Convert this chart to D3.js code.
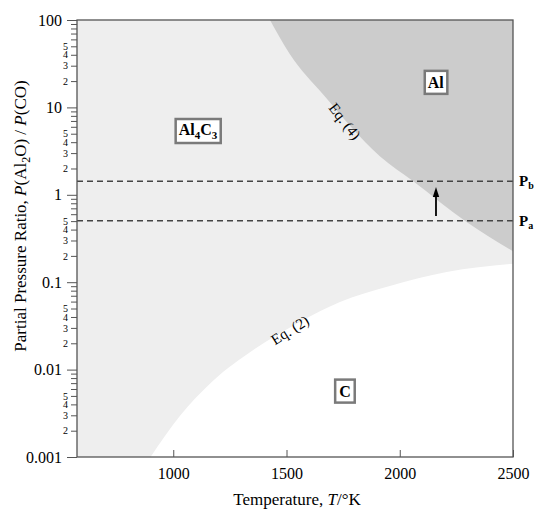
<!DOCTYPE html>
<html>
<head>
<meta charset="utf-8">
<script src="https://cdn.jsdelivr.net/npm/d3@7"></script>
<style>
  body { margin: 0; background: #fff; }
  text { font-family: "Liberation Serif", "Times New Roman", serif; }
</style>
</head>
<body>
<div id="chart"></div>
<script>
// Eq. (4) boundary (Al4C3 / Al): temperature (K) and ratio
const eq4Temps = [1427, 1515, 1661, 1912, 2058, 2295, 2500];
const eq4Ratios = [100, 40.5, 14.1, 2.77, 1.44, 0.49, 0.226];

// Eq. (2) boundary (Al4C3 / C)
const eq2Temps = [900, 1030, 1171, 1361, 1559, 1736, 1956, 2207, 2500];
const eq2Ratios = [0.001, 0.00296, 0.00724, 0.0173, 0.0351, 0.0594, 0.0906, 0.131, 0.163];

// dashed pressure levels
const levelNames = ['b', 'a'];
const levelRatios = [1.43, 0.505];

// arrow from Pa up to Pb
const arrowTemp = 2160;
const arrowRatios = [0.571, 1.225];

// axes
const xTicks = [1000, 1500, 2000, 2500];
const yTicks = [0.001, 0.01, 0.1, 1, 10, 100];
const yTickLabels = ['0.001', '0.01', '0.1', '1', '10', '100'];

// phase labels: name, temperature, ratio
const phaseNames = ['Al4C3', 'Al', 'C'];
const phaseTemps = [1109, 2159, 1758];
const phaseRatios = [5.6, 19.4, 0.00569];

// curve labels
const eqNames = ['Eq. (4)', 'Eq. (2)'];
const eqTemps = [1758, 1515];
const eqRatios = [6.95, 0.0284];
const eqAngles = [52, -32];

const width = 534, height = 510;
const margin = { top: 20, right: 21, bottom: 53, left: 77 };

const svg = d3.select('#chart')
  .append('svg')
  .attr('width', width)
  .attr('height', height);

const x = d3.scaleLinear()
  .domain([575, 2500])
  .range([margin.left, width - margin.right]);

const y = d3.scaleLog()
  .domain([0.001, 100])
  .range([height - margin.bottom, margin.top]);

// light grey background = Al4C3 field
svg.append('rect')
  .attr('x', x(575))
  .attr('y', y(100))
  .attr('width', x(2500) - x(575))
  .attr('height', y(0.001) - y(100))
  .attr('fill', '#eeeeee');

svg.append('clipPath').attr('id', 'plot')
  .append('rect')
  .attr('x', x(575))
  .attr('y', y(100))
  .attr('width', x(2500) - x(575))
  .attr('height', y(0.001) - y(100));

const eq4 = eq4Temps.map((t, i) => ({ T: t, P: eq4Ratios[i] }));
const eq2 = eq2Temps.map((t, i) => ({ T: t, P: eq2Ratios[i] }));

// Al field (dark grey), between Eq. (4) and the top
svg.append('path')
  .datum(eq4)
  .attr('clip-path', 'url(#plot)')
  .attr('fill', '#cccccc')
  .attr('d', d3.area()
    .x(d => x(d.T))
    .y0(y(100))
    .y1(d => y(d.P))
    .curve(d3.curveMonotoneX));

// C field (white), between Eq. (2) and the bottom
svg.append('path')
  .datum(eq2)
  .attr('clip-path', 'url(#plot)')
  .attr('fill', '#ffffff')
  .attr('d', d3.area()
    .x(d => x(d.T))
    .y0(y(0.001))
    .y1(d => y(d.P))
    .curve(d3.curveMonotoneX));

// dashed lines Pa, Pb
levelRatios.forEach((p, i) => {
  svg.append('line')
    .attr('x1', x(575))
    .attr('x2', x(2500))
    .attr('y1', y(p))
    .attr('y2', y(p))
    .attr('stroke', '#444')
    .attr('stroke-width', 1.5)
    .attr('stroke-dasharray', '6,4');

  const lab = svg.append('text')
    .attr('x', x(2500) + 6)
    .attr('y', y(p))
    .attr('dy', '0.35em')
    .style('font-size', '15px')
    .style('font-weight', 'bold')
    .attr('fill', '#000');
  lab.append('tspan').text('P');
  lab.append('tspan').attr('dy', 3).style('font-size', '10px').text(levelNames[i]);
});

// arrow
svg.append('line')
  .attr('x1', x(arrowTemp))
  .attr('x2', x(arrowTemp))
  .attr('y1', y(arrowRatios[0]))
  .attr('y2', y(arrowRatios[1]) + 8)
  .attr('stroke', '#000')
  .attr('stroke-width', 1.8);
svg.append('path')
  .attr('fill', '#000')
  .attr('d', `M${x(arrowTemp)},${y(arrowRatios[1])} l-3.2,10 l6.4,0 z`);

// frame
svg.append('rect')
  .attr('x', x(575))
  .attr('y', y(100))
  .attr('width', x(2500) - x(575))
  .attr('height', y(0.001) - y(100))
  .attr('fill', 'none')
  .attr('stroke', '#555')
  .attr('stroke-width', 1.3);

// y axis: major ticks
const yAxis = svg.append('g')
  .attr('transform', `translate(${margin.left},0)`)
  .call(d3.axisLeft(y)
    .tickValues(yTicks)
    .tickSize(10)
    .tickPadding(5)
    .tickFormat((d, i) => yTickLabels[i]));
yAxis.select('.domain').remove();
yAxis.selectAll('line').attr('stroke', '#555');
yAxis.selectAll('text')
  .style('font-size', '16px')
  .style('font-family', '"Liberation Serif", serif')
  .attr('fill', '#000');

// y axis: minor ticks 2..9, labels only 2..5
const minor = [];
yTicks.slice(0, -1).forEach(d => {
  for (let k = 2; k <= 9; k++) minor.push(d * k);
});
const yMinor = svg.append('g')
  .attr('transform', `translate(${margin.left},0)`)
  .call(d3.axisLeft(y)
    .tickValues(minor)
    .tickSize(6)
    .tickPadding(3)
    .tickFormat(d => {
      const k = Math.round(d / Math.pow(10, Math.floor(Math.log10(d) + 1e-9)));
      return k <= 5 ? k : '';
    }));
yMinor.select('.domain').remove();
yMinor.selectAll('line').attr('stroke', '#555');
yMinor.selectAll('text')
  .style('font-size', '10px')
  .style('font-family', '"Liberation Serif", serif')
  .attr('fill', '#000');

// x axis, ticks pointing inwards
const xAxis = svg.append('g')
  .attr('transform', `translate(0,${y(0.001)})`)
  .call(d3.axisBottom(x)
    .tickValues(xTicks)
    .tickSizeInner(-7)
    .tickSizeOuter(0)
    .tickPadding(11)
    .tickFormat(d3.format('d')));
xAxis.select('.domain').remove();
xAxis.selectAll('line').attr('stroke', '#555');
xAxis.selectAll('text')
  .style('font-size', '16px')
  .style('font-family', '"Liberation Serif", serif')
  .attr('fill', '#000');

// axis titles
const xTitle = svg.append('text')
  .attr('x', 297)
  .attr('y', 505)
  .attr('text-anchor', 'middle')
  .style('font-size', '17px');
xTitle.append('tspan').text('Temperature, ');
xTitle.append('tspan').style('font-style', 'italic').text('T');
xTitle.append('tspan').text('/°K');

const yTitle = svg.append('text')
  .attr('transform', 'translate(26,216) rotate(-90)')
  .attr('text-anchor', 'middle')
  .style('font-size', '17px');
yTitle.append('tspan').text('Partial Pressure Ratio, ');
yTitle.append('tspan').style('font-style', 'italic').text('P');
yTitle.append('tspan').text('(Al');
yTitle.append('tspan').attr('dy', 4).style('font-size', '12px').text('2');
yTitle.append('tspan').attr('dy', -4).text('O) / ');
yTitle.append('tspan').style('font-style', 'italic').text('P');
yTitle.append('tspan').text('(CO)');

// phase labels in boxes
phaseNames.forEach((name, i) => {
  const g = svg.append('g');
  const t = g.append('text')
    .attr('x', x(phaseTemps[i]))
    .attr('y', y(phaseRatios[i]))
    .attr('dy', '0.35em')
    .attr('text-anchor', 'middle')
    .style('font-size', '16px')
    .style('font-weight', 'bold');
  if (name === 'Al4C3') {
    t.append('tspan').text('Al');
    t.append('tspan').attr('dy', 4).style('font-size', '11px').text('4');
    t.append('tspan').attr('dy', -4).text('C');
    t.append('tspan').attr('dy', 4).style('font-size', '11px').text('3');
  } else {
    t.text(name);
  }
  const bb = t.node().getBBox();
  const padX = name === 'C' ? 4 : 3, padY = 3;
  g.insert('rect', 'text')
    .attr('x', bb.x - padX)
    .attr('y', bb.y - padY + (name === 'Al4C3' ? 1 : 0))
    .attr('width', bb.width + 2 * padX)
    .attr('height', bb.height + 2 * padY - (name === 'Al4C3' ? 2 : 0))
    .attr('fill', '#fff')
    .attr('stroke', '#7a7a7a')
    .attr('stroke-width', 2.5);
});

// curve labels
eqNames.forEach((name, i) => {
  svg.append('text')
    .attr('transform', `translate(${x(eqTemps[i])},${y(eqRatios[i])}) rotate(${eqAngles[i]})`)
    .attr('text-anchor', 'middle')
    .attr('dy', '0.35em')
    .style('font-size', '15px')
    .text(name);
});
</script>
</body>
</html>
